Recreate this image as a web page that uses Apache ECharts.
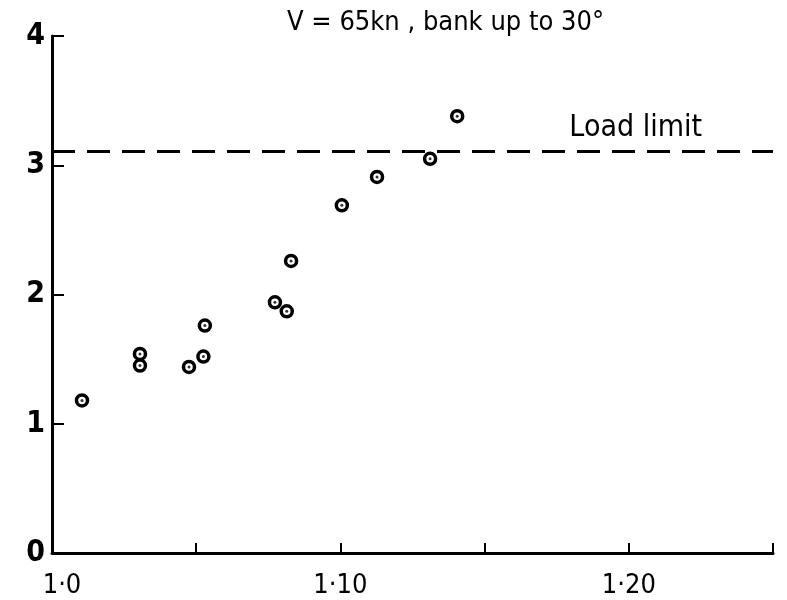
<!DOCTYPE html>
<html>
<head>
    <meta charset="utf-8">
    <title>Load factor vs speed ratio</title>
    <script src="https://cdn.jsdelivr.net/npm/echarts@6/dist/echarts.min.js"></script>
</head>
<body style="margin:0;background:#fff">

<div id="main" style="width: 787px;height:600px;"></div>

<script type="text/javascript">

    // data
    var xValues = [1.0104, 1.0305, 1.0305, 1.0475, 1.0525, 1.053, 1.0773, 1.0814, 1.0829, 1.1005, 1.1127, 1.1311, 1.1405];
    var yValues = [1.18, 1.54, 1.45, 1.44, 1.52, 1.76, 1.94, 1.87, 2.26, 2.69, 2.91, 3.05, 3.38];
    var loadLimit = 3.11;

    // tick labels
    var xTickValues = [1.0, 1.10, 1.20];
    var xTickLabels = ['1·0', '1·10', '1·20'];
    var yTickLabels = ['0', '1', '2', '3', '4'];

    var font = '"Liberation Sans Narrow", "DejaVu Sans Condensed", "Liberation Sans", sans-serif';

    var points = [];
    for (var i = 0; i < xValues.length; i++) {
        points.push([xValues[i], yValues[i]]);
    }

    var myChart = echarts.init(document.getElementById('main'));

    var option = {
        backgroundColor: '#fff',
        animation: false,
        title: {
            text: 'V = 65kn , bank up to 30°',
            left: 282,
            top: 4,
            textStyle: {
                fontFamily: font,
                fontSize: 27,
                fontWeight: 'normal',
                color: '#000'
            }
        },
        grid: {
            left: 52,
            right: 14,
            top: 36,
            bottom: 47
        },
        xAxis: {
            type: 'value',
            min: 1.0,
            max: 1.25,
            interval: 0.05,
            splitLine: {show: false},
            axisLine: {lineStyle: {color: '#000', width: 3}},
            axisTick: {inside: true, length: 10, lineStyle: {color: '#000', width: 2}},
            axisLabel: {
                margin: 19,
                fontFamily: font,
                fontSize: 27,
                color: '#000',
                formatter: function (v) {
                    for (var k = 0; k < xTickValues.length; k++) {
                        if (Math.abs(v - xTickValues[k]) < 1e-6) {
                            return k === 0 ? '{f|' + xTickLabels[k] + '}' : xTickLabels[k];
                        }
                    }
                    return '';
                },
                rich: {
                    f: {fontFamily: font, fontSize: 27, color: '#000', padding: [0, 0, 0, 20]}
                }
            }
        },
        yAxis: {
            type: 'value',
            min: 0,
            max: 4,
            interval: 1,
            splitLine: {show: false},
            axisLine: {show: true, lineStyle: {color: '#000', width: 3}},
            axisTick: {show: true, inside: true, length: 12, lineStyle: {color: '#000', width: 2}},
            axisLabel: {
                margin: 7,
                fontFamily: font,
                fontSize: 30,
                fontWeight: 'bold',
                color: '#000',
                formatter: function (v) {
                    return yTickLabels[Math.round(v)];
                }
            }
        },
        series: [
            {
                name: 'rings',
                type: 'scatter',
                symbol: 'circle',
                symbolSize: 11,
                itemStyle: {color: '#fff', borderColor: '#000', borderWidth: 3.5, opacity: 1},
                data: points,
                markLine: {
                    silent: true,
                    symbol: 'none',
                    lineStyle: {color: '#000', width: 3, type: [23, 12]},
                    label: {
                        show: true,
                        position: 'insideEndTop',
                        distance: [71, 8],
                        formatter: 'Load limit',
                        fontFamily: font,
                        fontSize: 30,
                        color: '#000'
                    },
                    data: [{yAxis: loadLimit}]
                }
            },
            {
                name: 'dots',
                type: 'scatter',
                symbol: 'circle',
                symbolSize: 3,
                itemStyle: {color: '#000'},
                data: points
            }
        ]
    };

    myChart.setOption(option);

</script>
</body>
</html>
